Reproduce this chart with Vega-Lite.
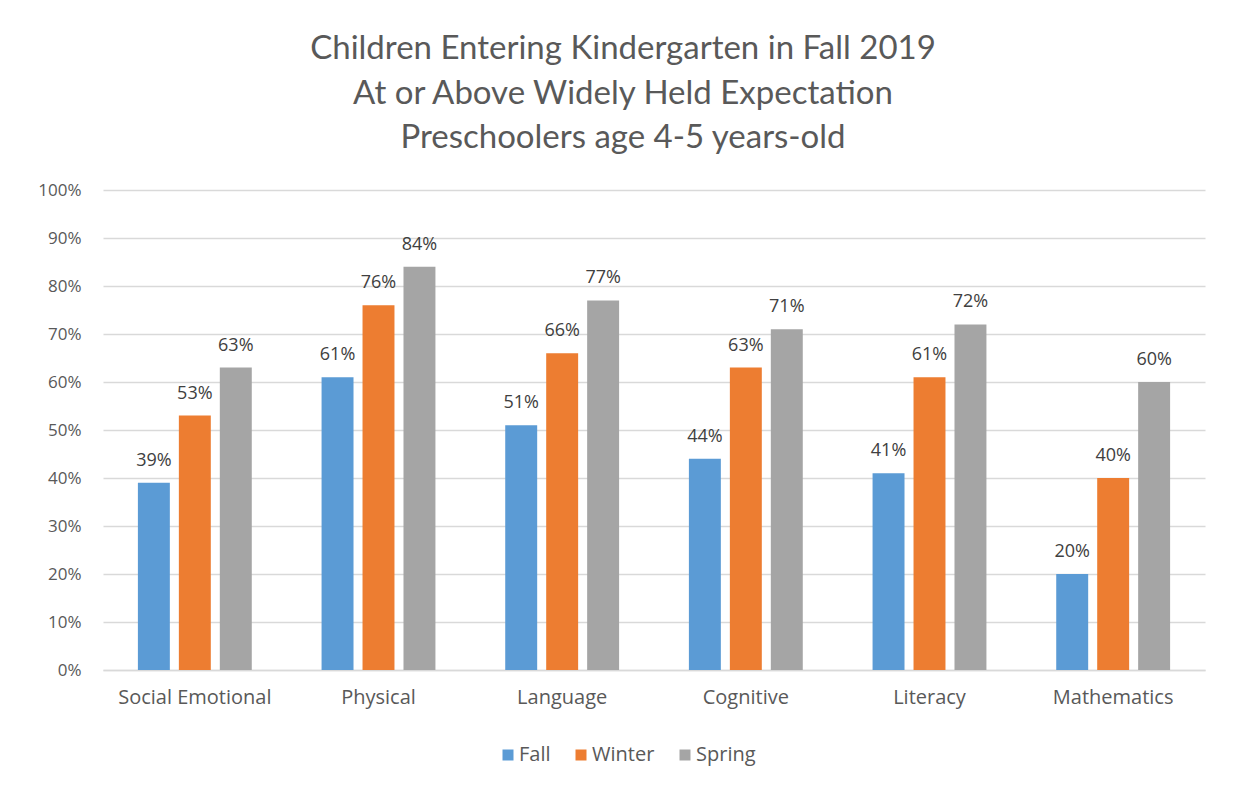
{
  "$schema": "https://vega.github.io/schema/vega-lite/v6.json",
  "width": 1102,
  "height": 480,
  "autosize": {"type": "none"},
  "padding": {"left": 103, "top": 190, "right": 33, "bottom": 118},
  "background": "white",
  "title": {
    "text": ["Children Entering Kindergarten in Fall 2019", "At or Above Widely Held Expectation", "Preschoolers age 4-5 years-old"],
    "font": "Lato",
    "fontSize": 33,
    "fontWeight": "normal",
    "color": "#595959",
    "lineHeight": 44.5,
    "anchor": "middle",
    "offset": 26,
    "dx": -31
  },
  "data": {
    "values": [
      {"domain": "Social Emotional", "season": "Fall", "value": 0.39},
      {"domain": "Social Emotional", "season": "Winter", "value": 0.53},
      {"domain": "Social Emotional", "season": "Spring", "value": 0.63},
      {"domain": "Physical", "season": "Fall", "value": 0.61},
      {"domain": "Physical", "season": "Winter", "value": 0.76},
      {"domain": "Physical", "season": "Spring", "value": 0.84},
      {"domain": "Language", "season": "Fall", "value": 0.51},
      {"domain": "Language", "season": "Winter", "value": 0.66},
      {"domain": "Language", "season": "Spring", "value": 0.77},
      {"domain": "Cognitive", "season": "Fall", "value": 0.44},
      {"domain": "Cognitive", "season": "Winter", "value": 0.63},
      {"domain": "Cognitive", "season": "Spring", "value": 0.71},
      {"domain": "Literacy", "season": "Fall", "value": 0.41},
      {"domain": "Literacy", "season": "Winter", "value": 0.61},
      {"domain": "Literacy", "season": "Spring", "value": 0.72},
      {"domain": "Mathematics", "season": "Fall", "value": 0.20},
      {"domain": "Mathematics", "season": "Winter", "value": 0.40},
      {"domain": "Mathematics", "season": "Spring", "value": 0.60}
    ]
  },
  "encoding": {
    "x": {
      "field": "domain",
      "type": "nominal",
      "sort": null,
      "scale": {"paddingInner": 0.38, "paddingOuter": 0.19},
      "axis": {
        "title": null,
        "labelAngle": 0,
        "labelFont": "Open Sans",
        "labelFontSize": 20,
        "labelColor": "#595959",
        "labelPadding": 17,
        "ticks": false,
        "domainColor": "#D9D9D9",
        "domainWidth": 1.5,
        "grid": false
      }
    },
    "xOffset": {
      "field": "season",
      "type": "nominal",
      "sort": ["Fall", "Winter", "Spring"],
      "scale": {"paddingInner": 0.22, "paddingOuter": 0}
    },
    "y": {
      "field": "value",
      "type": "quantitative",
      "scale": {"domain": [0, 1], "nice": false},
      "axis": {
        "title": null,
        "format": ".0%",
        "values": [0, 0.1, 0.2, 0.3, 0.4, 0.5, 0.6, 0.7, 0.8, 0.9, 1],
        "labelFont": "Open Sans",
        "labelFontSize": 17,
        "labelColor": "#595959",
        "labelPadding": 22,
        "ticks": false,
        "domain": false,
        "grid": true,
        "gridColor": "#D9D9D9",
        "gridWidth": 1.5
      }
    }
  },
  "layer": [
    {
      "mark": {"type": "bar"},
      "encoding": {
        "color": {
          "field": "season",
          "type": "nominal",
          "sort": ["Fall", "Winter", "Spring"],
          "scale": {"domain": ["Fall", "Winter", "Spring"], "range": ["#5B9BD5", "#ED7D31", "#A5A5A5"]},
          "legend": {
            "title": null,
            "orient": "none",
            "direction": "horizontal",
            "legendX": 395,
            "legendY": 555,
            "symbolType": "square",
            "symbolSize": 121,
            "symbolStrokeWidth": 0,
            "labelFont": "Open Sans",
            "labelFontSize": 20,
            "labelColor": "#595959",
            "labelOffset": 1,
            "columnPadding": 20
          }
        }
      }
    },
    {
      "mark": {"type": "text", "baseline": "alphabetic", "dy": -17, "font": "Open Sans", "fontSize": 18, "color": "#404040"},
      "encoding": {
        "text": {"field": "value", "type": "quantitative", "format": ".0%"}
      }
    }
  ],
  "config": {
    "view": {"stroke": null}
  }
}
